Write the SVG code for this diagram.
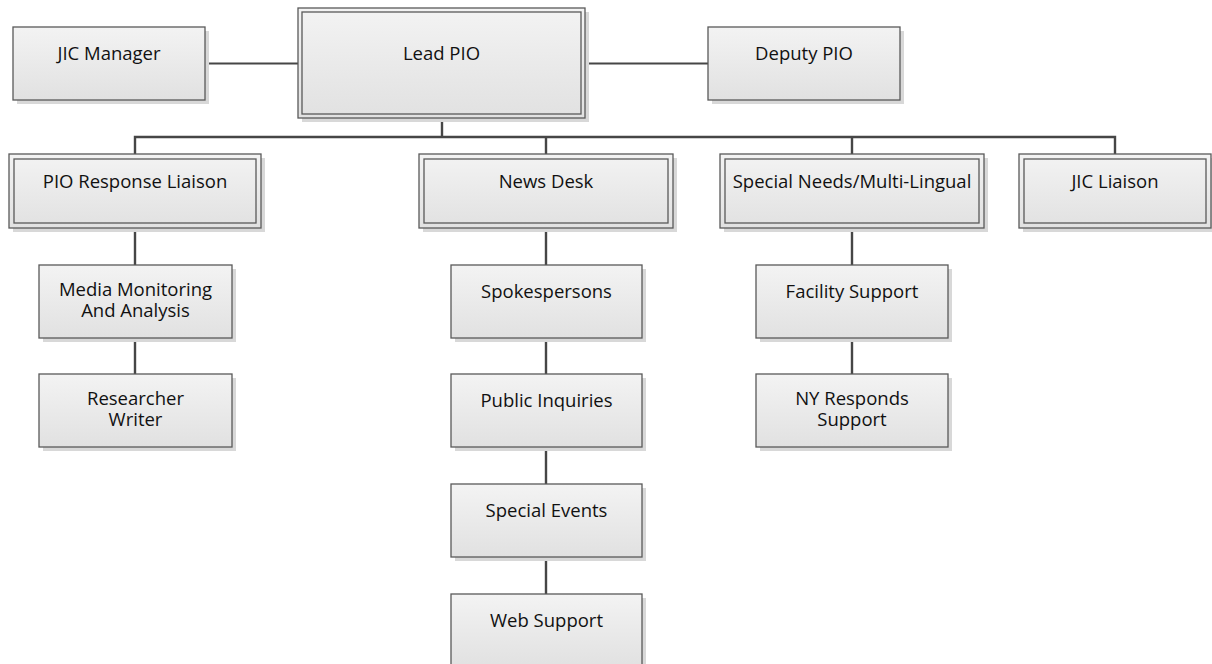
<svg xmlns="http://www.w3.org/2000/svg" width="1212" height="664" viewBox="0 0 1212 664">
<defs>
<linearGradient id="g" x1="0" y1="0" x2="0" y2="1">
<stop offset="0" stop-color="#f3f3f3"/>
<stop offset="1" stop-color="#e1e1e1"/>
</linearGradient>
<style>
.sh{fill:#d8d8d8;stroke:none}
.bx{fill:url(#g);stroke:#595959;stroke-width:1.3}
.in{fill:none;stroke:#595959;stroke-width:1.3}
.t{font-family:"Open Sans","Noto Sans","Liberation Sans",sans-serif;font-size:18.5px;fill:#111111;text-anchor:middle}
.c{fill:none;stroke:#464646;stroke-width:2.4}
.c2{fill:none;stroke:#464646;stroke-width:1.8}
</style>
</defs>
<rect width="1212" height="664" fill="#ffffff"/>
<g id="connectors">
<path class="c2" d="M205,63.5H298M585,63.5H708"/>
<path class="c" d="M442,118V137M135,154V137H1115V154M546,137V154M852,137V154"/>
<path class="c" d="M135,228V265M135,338V374"/>
<path class="c" d="M546,228V265M546,338V374M546,447V484M546,557V594"/>
<path class="c" d="M852,228V265M852,338V374"/>
</g>
<g id="jic-manager">
<rect class="sh" x="17" y="31" width="192" height="73"/>
<rect class="bx" x="13" y="27" width="192" height="73"/>
<text class="t" x="109" y="60">JIC Manager</text>
</g>
<g id="lead-pio">
<rect class="sh" x="302" y="12" width="287" height="110"/>
<rect class="bx" x="298" y="8" width="287" height="110"/>
<rect class="in" x="302" y="12" width="279" height="102"/>
<text class="t" x="441.5" y="60">Lead PIO</text>
</g>
<g id="deputy-pio">
<rect class="sh" x="712" y="31" width="192" height="73"/>
<rect class="bx" x="708" y="27" width="192" height="73"/>
<text class="t" x="804" y="60">Deputy PIO</text>
</g>
<g id="pio-response-liaison">
<rect class="sh" x="13" y="158" width="252" height="74"/>
<rect class="bx" x="9" y="154" width="252" height="74"/>
<rect class="in" x="14" y="159" width="242" height="64"/>
<text class="t" x="135" y="188">PIO Response Liaison</text>
</g>
<g id="news-desk">
<rect class="sh" x="423" y="158" width="254" height="74"/>
<rect class="bx" x="419" y="154" width="254" height="74"/>
<rect class="in" x="424" y="159" width="244" height="64"/>
<text class="t" x="546" y="188">News Desk</text>
</g>
<g id="special-needs">
<rect class="sh" x="724" y="158" width="264" height="74"/>
<rect class="bx" x="720" y="154" width="264" height="74"/>
<rect class="in" x="725" y="159" width="254" height="64"/>
<text class="t" x="852" y="188">Special Needs/Multi-Lingual</text>
</g>
<g id="jic-liaison">
<rect class="sh" x="1023" y="158" width="192" height="74"/>
<rect class="bx" x="1019" y="154" width="192" height="74"/>
<rect class="in" x="1024" y="159" width="182" height="64"/>
<text class="t" x="1115" y="188">JIC Liaison</text>
</g>
<g id="media-monitoring">
<rect class="sh" x="43" y="269" width="193" height="73"/>
<rect class="bx" x="39" y="265" width="193" height="73"/>
<text class="t" x="135.5" y="296"><tspan x="135.5" y="296">Media Monitoring</tspan><tspan x="135.5" y="317">And Analysis</tspan></text>
</g>
<g id="researcher-writer">
<rect class="sh" x="43" y="378" width="193" height="73"/>
<rect class="bx" x="39" y="374" width="193" height="73"/>
<text class="t" x="135.5" y="405"><tspan x="135.5" y="405">Researcher</tspan><tspan x="135.5" y="426">Writer</tspan></text>
</g>
<g id="spokespersons">
<rect class="sh" x="455" y="269" width="191" height="73"/>
<rect class="bx" x="451" y="265" width="191" height="73"/>
<text class="t" x="546.5" y="298">Spokespersons</text>
</g>
<g id="public-inquiries">
<rect class="sh" x="455" y="378" width="191" height="73"/>
<rect class="bx" x="451" y="374" width="191" height="73"/>
<text class="t" x="546.5" y="407">Public Inquiries</text>
</g>
<g id="special-events">
<rect class="sh" x="455" y="488" width="191" height="73"/>
<rect class="bx" x="451" y="484" width="191" height="73"/>
<text class="t" x="546.5" y="517">Special Events</text>
</g>
<g id="web-support">
<rect class="sh" x="455" y="598" width="191" height="73"/>
<rect class="bx" x="451" y="594" width="191" height="73"/>
<text class="t" x="546.5" y="627">Web Support</text>
</g>
<g id="facility-support">
<rect class="sh" x="760" y="269" width="192" height="73"/>
<rect class="bx" x="756" y="265" width="192" height="73"/>
<text class="t" x="852" y="298">Facility Support</text>
</g>
<g id="ny-responds-support">
<rect class="sh" x="760" y="378" width="192" height="73"/>
<rect class="bx" x="756" y="374" width="192" height="73"/>
<text class="t" x="852" y="405"><tspan x="852" y="405">NY Responds</tspan><tspan x="852" y="426">Support</tspan></text>
</g>
</svg>
